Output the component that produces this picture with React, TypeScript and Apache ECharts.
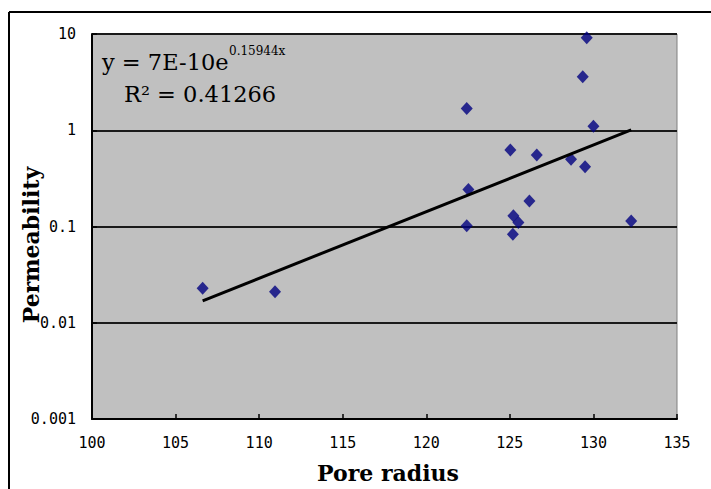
import React, { useEffect, useRef } from "react";
import * as echarts from "echarts";

// Pore radius (x) vs permeability (y)
const poreRadius = [
  129.6, 129.36, 122.42, 130.0, 125.03, 126.61, 128.66, 129.5, 122.52, 126.17,
  125.21, 125.51, 122.42, 125.18, 132.26, 106.62, 110.95,
];
const permeability = [
  9.15, 3.59, 1.68, 1.1, 0.624, 0.553, 0.5, 0.418, 0.243, 0.184,
  0.129, 0.11, 0.102, 0.083, 0.114, 0.0228, 0.021,
];
// Exponential trend line y = A * e^(B x)
const TREND_A = 7e-10;
const TREND_B = 0.15944;
const equationMain = "y = 7E-10e";
const equationExp = "0.15944x";
const rSquared = "R² = 0.41266";
const xTitle = "Pore radius";
const yTitle = "Permeability";
const xMin = 100;
const xMax = 135;
const xStep = 5;
const yMin = 0.001;
const yMax = 10;

export default function App() {
  const ref = useRef<HTMLDivElement>(null);
  useEffect(() => {
    if (!ref.current) return;
    const chart = echarts.init(ref.current, undefined, { renderer: "svg" });
    const points = poreRadius.map((x, i) => [x, permeability[i]]);
    const tx0 = Math.min(...poreRadius);
    const tx1 = Math.max(...poreRadius);
    const trend = [
      [tx0, TREND_A * Math.exp(TREND_B * tx0)],
      [tx1, TREND_A * Math.exp(TREND_B * tx1)],
    ];
    const tickFont = "'DejaVu Sans Mono', monospace";
    const serifFont = "'DejaVu Serif', serif";
    chart.setOption({
      animation: false,
      backgroundColor: "#ffffff",
      grid: {
        left: 92,
        top: 34,
        right: 34,
        bottom: 70,
        show: true,
        backgroundColor: "#c0c0c0",
        borderColor: "#808080",
        borderWidth: 1,
      },
      xAxis: {
        type: "value",
        min: xMin,
        max: xMax,
        interval: xStep,
        axisLine: { show: true, onZero: false, lineStyle: { color: "#000", width: 2 } },
        axisTick: { show: true, inside: true, length: 5, lineStyle: { color: "#000", width: 1.5 } },
        axisLabel: { color: "#000", fontSize: 15, fontFamily: tickFont, margin: 16 },
        splitLine: { show: false },
      },
      yAxis: {
        type: "log",
        logBase: 10,
        min: yMin,
        max: yMax,
        axisLine: { show: true, lineStyle: { color: "#000", width: 2 } },
        axisTick: { show: true, inside: true, length: 5, lineStyle: { color: "#000", width: 1.5 } },
        axisLabel: {
          color: "#000",
          fontSize: 15,
          fontFamily: tickFont,
          margin: 16,
          formatter: (v: number) => String(+Number(v).toPrecision(3)),
        },
        splitLine: { show: true, lineStyle: { color: "#1a1a1a", width: 2 } },
      },
      series: [
        {
          type: "scatter",
          data: points,
          symbol: "diamond",
          symbolSize: [12, 13],
          itemStyle: { color: "#000080" },
          z: 3,
        },
        {
          type: "line",
          data: trend,
          symbol: "none",
          lineStyle: { color: "#000", width: 3 },
          z: 4,
        },
      ],
      graphic: [
        { type: "line", shape: { x1: 9, y1: 12, x2: 711, y2: 12 }, style: { stroke: "#000", lineWidth: 2 } },
        { type: "line", shape: { x1: 9, y1: 12, x2: 9, y2: 489 }, style: { stroke: "#000", lineWidth: 2 } },
        {
          type: "text",
          x: 102,
          y: 62,
          style: { text: equationMain, fontSize: 22.5, fontFamily: serifFont, fill: "#000", verticalAlign: "middle" },
          z: 10,
        },
        {
          type: "text",
          x: 229,
          y: 51,
          style: { text: equationExp, fontSize: 12, fontFamily: serifFont, fill: "#000", verticalAlign: "middle" },
          z: 10,
        },
        {
          type: "text",
          x: 124,
          y: 94,
          style: { text: rSquared, fontSize: 22.5, fontFamily: serifFont, fill: "#000", verticalAlign: "middle" },
          z: 10,
        },
        {
          type: "text",
          x: 388,
          y: 473,
          style: {
            text: xTitle,
            fontSize: 22,
            fontWeight: "bold",
            fontFamily: serifFont,
            fill: "#000",
            align: "center",
            verticalAlign: "middle",
          },
        },
        {
          type: "text",
          x: 31,
          y: 245,
          rotation: Math.PI / 2,
          style: {
            text: yTitle,
            fontSize: 22,
            fontWeight: "bold",
            fontFamily: serifFont,
            fill: "#000",
            align: "center",
            verticalAlign: "middle",
          },
        },
      ],
    });
    return () => chart.dispose();
  }, []);
  return (
    <div
      ref={ref}
      style={{ position: "fixed", left: 0, top: 0, width: 711, height: 489 }}
    />
  );
}
